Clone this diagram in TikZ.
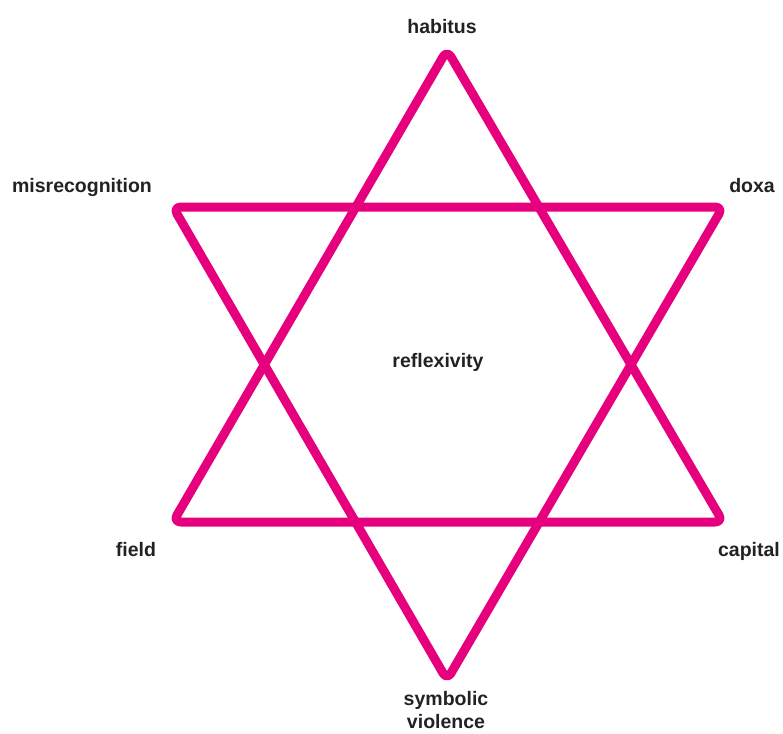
\documentclass[tikz,border=0pt]{standalone}
\usepackage{fontspec}
\setmainfont{Liberation Sans}
\definecolor{starpink}{RGB}{230,0,126}
\definecolor{labelgray}{RGB}{34,34,34}
\tikzset{
  tri/.style={draw=starpink, line width=9pt, rounded corners=8pt, line join=round},
  lbl/.style={font=\fontsize{19.5}{23}\selectfont\bfseries, text=labelgray, inner sep=0pt, anchor=base, align=center}
}
\begin{document}
\begin{tikzpicture}[x=1pt,y=-1pt]
\useasboundingbox (0,0) rectangle (783,733);
% up triangle
\coordinate (ua) at (447,50);
\coordinate (ul) at (173,522);
\coordinate (ur) at (723,522);
% down triangle
\coordinate (dl) at (173,207);
\coordinate (dr) at (723,207);
\coordinate (da) at (447,680);
\draw[tri] (ua) -- (ur) -- (ul) -- cycle;
\draw[tri] (dl) -- (dr) -- (da) -- cycle;
\node[lbl] (habitus) at (442,34) {habitus};
\node[lbl] (misrec) at (82,192) {misrecognition};
\node[lbl] (doxa) at (752,192) {doxa};
\node[lbl] (refl) at (438,367) {reflexivity};
\node[lbl] (field) at (136,556) {field};
\node[lbl] (capital) at (749,556) {capital};
\node[lbl] (symb) at (446,705) {symbolic};
\node[lbl] (viol) at (446,728) {violence};
\end{tikzpicture}
\end{document}
